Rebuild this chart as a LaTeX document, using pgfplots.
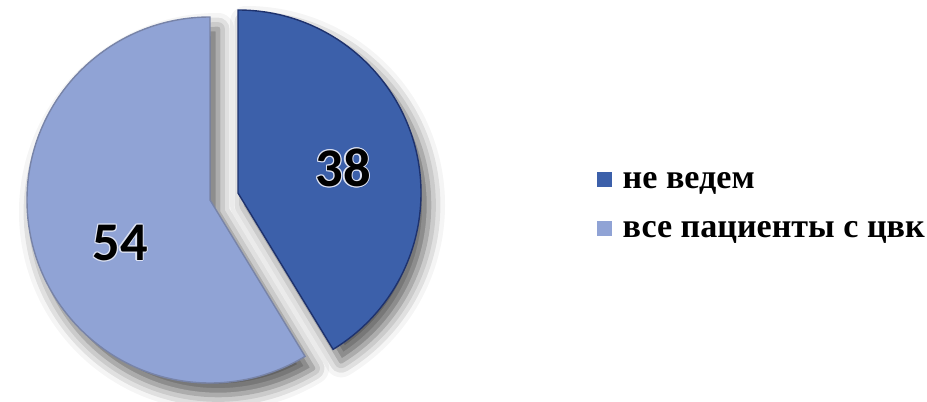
\documentclass[border=0pt]{standalone}
\usepackage{fontspec}
\setmainfont{Liberation Serif}[BoldFont={Liberation Serif Bold}]
\newfontfamily\legfont{Liberation Serif}[BoldFont={Liberation Serif Bold}]
\newfontfamily\numfont{Carlito}
\usepackage{pgfplots}
\pgfplotsset{compat=1.18}
\usepackage{pgfplotstable}
\usetikzlibrary{shadows.blur}
\definecolor{darkslice}{RGB}{60,96,170}
\definecolor{lightslice}{RGB}{144,163,213}
\definecolor{darkedge}{RGB}{30,50,110}
\pgfplotstableread{
label value
nevedem 38
vse 54
}\piedata
\pgfplotstablegetelem{0}{value}\of\piedata \let\valA\pgfplotsretval
\pgfplotstablegetelem{1}{value}\of\piedata \let\valB\pgfplotsretval
\pgfmathsetmacro{\angA}{\valA/(\valA+\valB)*360}
\pgfmathsetmacro{\endA}{90-\angA}
\pgfmathsetmacro{\endB}{90+\valB/(\valA+\valB)*360}
\begin{document}
\begin{tikzpicture}
\useasboundingbox (0,0) rectangle (9.27,4.01);
\begin{axis}[
  at={(0,0)}, anchor=origin,
  scale only axis, width=9.27cm, height=4.01cm,
  xmin=0, xmax=927, ymin=0, ymax=401,
  hide axis, clip=false,
]
% light slice (54)
\fill[lightslice, draw=darkedge!60, line width=0.4pt,
  blur shadow={shadow xshift=0.08cm, shadow yshift=-0.12cm, shadow blur radius=0.16cm, shadow opacity=65}]
  (axis cs:210,201) -- ++(90:1.83cm) arc[start angle=90, end angle=\endB, radius=1.83cm] -- cycle;
% dark slice (38), exploded
\fill[darkslice, draw=darkedge, line width=0.4pt,
  blur shadow={shadow xshift=0.08cm, shadow yshift=-0.12cm, shadow blur radius=0.16cm, shadow opacity=65}]
  (axis cs:238,208) -- ++(90:1.83cm) arc[start angle=90, end angle=\endA, radius=1.83cm] -- cycle;
\coordinate (lA) at (axis cs:343,233);
\coordinate (lB) at (axis cs:120,158);
\coordinate (g1) at (axis cs:622,212);
\coordinate (g2) at (axis cs:622,163);
% legend markers
\fill[darkslice] (axis cs:597,214) rectangle (axis cs:612,229);
\fill[lightslice] (axis cs:597,165) rectangle (axis cs:612,180);
\end{axis}
% legend text
\node[anchor=base west, inner sep=0pt] at (g1) {\legfont\bfseries\fontsize{9.7}{10}\selectfont не ведем};
\node[anchor=base west, inner sep=0pt] at (g2) {\legfont\bfseries\fontsize{9.7}{10}\selectfont все пациенты с цвк};
% value labels with soft glow
\foreach \dx/\dy in {-0.35/0,0.35/0,0/-0.35,0/0.35,-0.25/-0.25,0.25/0.25,-0.25/0.25,0.25/-0.25}{
  \node[white!70!lightslice, font=\numfont\bfseries\fontsize{15.5}{16}\selectfont, anchor=center]
    at ([xshift=\dx pt, yshift=\dy pt]lA) {\valA};
  \node[white!70!lightslice, font=\numfont\bfseries\fontsize{15.5}{16}\selectfont, anchor=center]
    at ([xshift=\dx pt, yshift=\dy pt]lB) {\valB};
}
\node[black, font=\numfont\bfseries\fontsize{15.5}{16}\selectfont, anchor=center] at (lA) {\valA};
\node[black, font=\numfont\bfseries\fontsize{15.5}{16}\selectfont, anchor=center] at (lB) {\valB};
\end{tikzpicture}
\end{document}
